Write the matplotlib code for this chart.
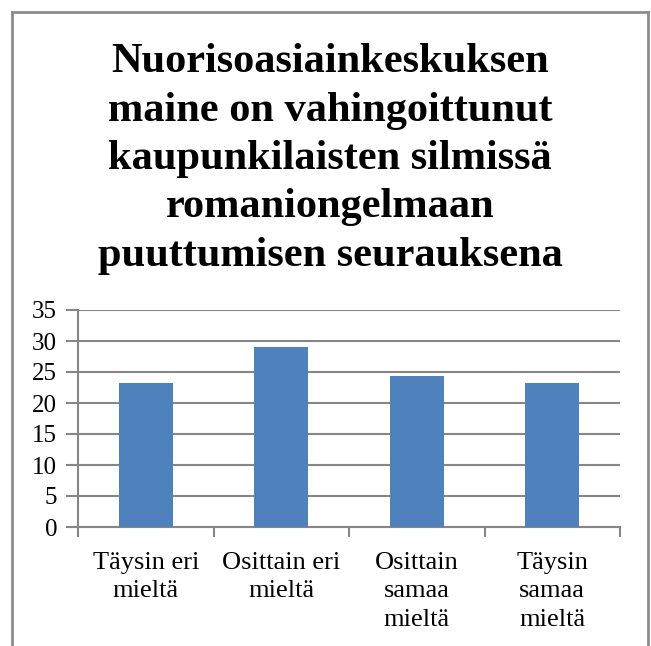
import matplotlib.pyplot as plt
from matplotlib.lines import Line2D

categories = ['Täysin eri\nmieltä', 'Osittain eri\nmieltä', 'Osittain\nsamaa\nmieltä', 'Täysin\nsamaa\nmieltä']
values = [23.2, 29.0, 24.4, 23.2]
yticks = [0, 5, 10, 15, 20, 25, 30, 35]
title = ('Nuorisoasiainkeskuksen\nmaine on vahingoittunut\nkaupunkilaisten silmissä\n'
         'romaniongelmaan\npuuttumisen seurauksena')

plt.rcParams['font.family'] = ['Liberation Serif', 'DejaVu Serif']
W, H = 651, 646
fig = plt.figure(figsize=(W / 100, H / 100), dpi=100)

grey = '#868686'
# chart frame, open at the bottom (pixel coords from top-left)
for xs, ys in [((12, 12), (H, 12)), ((12, 648), (12, 12)), ((648, 648), (12, H))]:
    fig.add_artist(Line2D([x / W for x in xs], [1 - y / H for y in ys],
                          transform=fig.transFigure, color='#8c8c8c', lw=2))

fig.text(330 / W, 1 - 159 / H, title, ha='center', va='center',
         fontsize=30.5, fontweight='bold', linespacing=1.36)

ax = fig.add_axes([78 / W, 1 - 527 / H, (620 - 78) / W, (527 - 310) / H])
x = range(len(values))
ax.bar(x, values, width=0.4, color='#4F81BD', zorder=3)
ax.set_xlim(-0.5, len(values) - 0.5)
ax.set_ylim(0, 35)
ax.set_yticks(yticks)
ax.yaxis.grid(True, color=grey, lw=1.5, zorder=0)
ax.set_xticks(list(x))
ax.set_xticklabels(categories, fontsize=19, linespacing=1.38, va='top')
ax.set_xticks([i - 0.5 for i in range(len(values) + 1)], minor=True)
ax.tick_params(axis='x', which='major', length=0, pad=18)
ax.tick_params(axis='x', which='minor', length=7, width=1.5, color=grey)
ax.tick_params(axis='y', length=9, width=1.5, color=grey, labelsize=18, pad=6)
for side in ['top', 'right']:
    ax.spines[side].set_visible(False)
for side in ['left', 'bottom']:
    ax.spines[side].set_color(grey)
    ax.spines[side].set_linewidth(1.5)

fig.savefig('out.png', dpi=100)
